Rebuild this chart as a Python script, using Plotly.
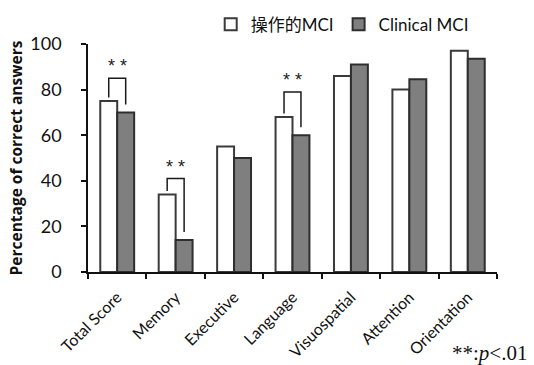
import plotly.graph_objects as go

# Subtest categories and the percentage of correct answers for each group
categories = ["Total Score", "Memory", "Executive", "Language",
              "Visuospatial", "Attention", "Orientation"]
operational_mci = [75, 34, 55, 68, 86, 80, 97]
clinical_mci = [70, 14, 50, 60, 91, 84.5, 93.5]
series_names = ["操作的MCI", "Clinical MCI"]

# Significant differences (category index) and the height of each bracket
sig_index = [0, 1, 3]
sig_bracket_top = [85, 41, 79]

y_ticks = [0, 20, 40, 60, 80, 100]

BARGAP = 0.42
half = (1 - BARGAP) / 4  # offset of each bar centre from the category centre

fig = go.Figure()
fig.add_trace(go.Bar(
    x=categories, y=operational_mci, name=series_names[0],
    marker=dict(color="#ffffff", line=dict(color="#3a3a3a", width=2)),
))
fig.add_trace(go.Bar(
    x=categories, y=clinical_mci, name=series_names[1],
    marker=dict(color="#7f7f7f", line=dict(color="#2e2e2e", width=2)),
))

# Significance brackets with "**" markers
for idx, top in zip(sig_index, sig_bracket_top):
    xl = idx - half
    xr = idx + half
    yl = operational_mci[idx] + 1.5
    yr = clinical_mci[idx] + 3.5
    fig.add_shape(type="path",
                  path=f"M {xl},{yl} L {xl},{top} L {xr},{top} L {xr},{yr}",
                  xref="x", yref="y",
                  line=dict(color="#1a1a1a", width=1.5))
    fig.add_annotation(x=idx, y=top, xref="x", yref="y", text="* *",
                       showarrow=False, yanchor="middle", yshift=12,
                       font=dict(family="Liberation Sans", size=18, color="#222"))

# Footnote
fig.add_annotation(x=1.078, y=-0.355, xref="paper", yref="paper",
                   xanchor="right", yanchor="middle", showarrow=False,
                   text="**:<i>p</i><.01",
                   font=dict(family="Liberation Serif", size=21, color="#111"))

fig.update_layout(
    width=534, height=365,
    margin=dict(l=88, r=37, t=44, b=93, autoexpand=False),
    paper_bgcolor="white", plot_bgcolor="white",
    barmode="group", bargap=BARGAP, bargroupgap=0,
    showlegend=True,
    legend=dict(orientation="h", x=0.3, y=1.085, xanchor="left",
                yanchor="middle", font=dict(family="Lato, Noto Sans CJK JP",
                                            size=17, color="#111"),
                itemwidth=30, tracegroupgap=0, bgcolor="rgba(0,0,0,0)"),
    font=dict(family="Lato", color="#111"),
)

fig.update_xaxes(
    type="category", tickson="boundaries", ticks="outside", ticklen=5,
    tickwidth=1.5, tickcolor="#111", showline=True, linecolor="#111",
    linewidth=1.5, tickangle=-45, showgrid=False, ticklabelstandoff=8,
    automargin=False,
    tickfont=dict(family="Lato", size=16, color="#111"),
)
fig.update_yaxes(
    range=[0, 100], tickvals=y_ticks, ticks="outside", ticklen=5,
    tickwidth=1.5, tickcolor="#111", showline=True, linecolor="#111",
    linewidth=1.5, showgrid=False, zeroline=False, ticklabelstandoff=16,
    automargin=False,
    tickfont=dict(family="Lato", size=18, color="#111"),
    title=dict(text="<b>Percentage of correct answers</b>", standoff=4,
               font=dict(family="Open Sans", size=15.5, color="#111")),
)

fig.write_html("out.html")
